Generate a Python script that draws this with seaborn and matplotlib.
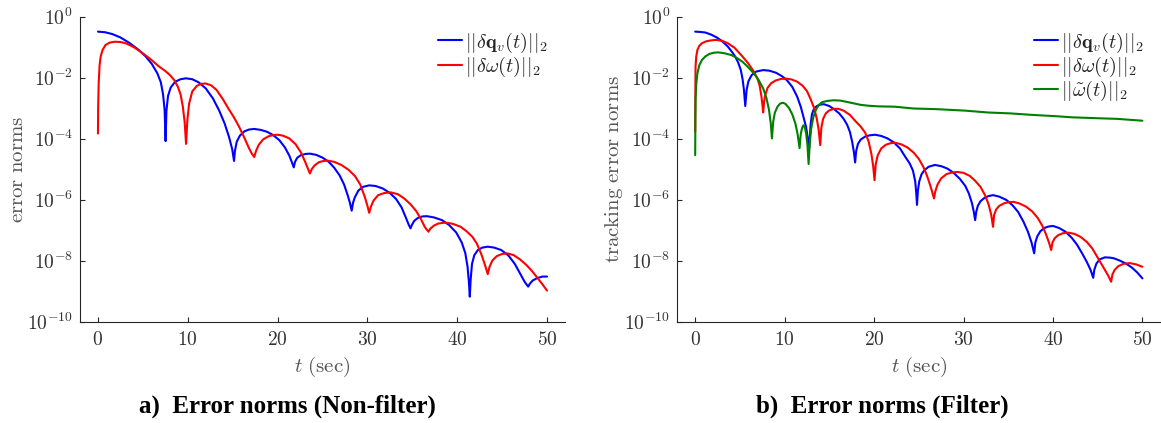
import numpy as np
import matplotlib
matplotlib.use("Agg")
import matplotlib.pyplot as plt
from matplotlib.ticker import NullLocator
import seaborn as sns

# ---------------- (a) non-filter case: time [s] and log10 of error norms ----------------
t_qv_a = [0, 0.8, 1.6, 2.5, 3.5, 4.5, 5.3, 6.0, 6.6, 7.0, 7.25, 7.42, 7.53,
          7.62, 7.8, 8.1, 8.6, 9.2, 9.8, 10.5, 11.2, 12.0, 12.8, 13.5, 14.1, 14.6, 14.95, 15.15,
          15.25, 15.45, 15.8, 16.3, 16.8, 17.4, 18.1, 18.8, 19.5, 20.2, 20.8, 21.3, 21.6, 21.8,
          21.95, 22.2, 22.6, 23.1, 23.6, 24.3, 25.0, 25.7, 26.3, 26.9, 27.4, 27.8, 28.05, 28.25,
          28.4, 28.6, 29.0, 29.5, 30.2, 30.9, 31.7, 32.5, 33.2, 33.8, 34.3, 34.6, 34.8,
          34.95, 35.2, 35.6, 36.1, 36.6, 37.4, 38.3, 39.1, 39.9, 40.5, 40.9, 41.15, 41.3, 41.4,
          41.5, 41.65, 41.9, 42.3, 42.8, 43.4, 44.1, 44.9, 45.7, 46.4, 47.0, 47.5, 47.9,
          48.1, 48.4, 48.9, 49.5, 50]
log_qv_a = [-0.49, -0.51, -0.57, -0.68, -0.86, -1.08, -1.30, -1.55, -1.85, -2.15, -2.55, -3.05, -4.08,
            -3.10, -2.60, -2.32, -2.13, -2.05, -2.02, -2.05, -2.15, -2.35, -2.68, -3.08, -3.50, -3.95, -4.35, -4.73,
            -4.40, -4.10, -3.90, -3.76, -3.70, -3.68, -3.71, -3.77, -3.88, -4.05, -4.28, -4.55, -4.78, -4.94,
            -4.75, -4.62, -4.54, -4.50, -4.49, -4.53, -4.62, -4.76, -4.95, -5.20, -5.50, -5.85, -6.10, -6.36,
            -6.10, -5.92, -5.70, -5.58, -5.53, -5.55, -5.63, -5.78, -5.98, -6.25, -6.60, -6.82, -6.94,
            -6.83, -6.70, -6.60, -6.55, -6.54, -6.58, -6.67, -6.83, -7.08, -7.40, -7.75, -8.20, -8.70, -9.18,
            -8.60, -8.10, -7.82, -7.65, -7.57, -7.54, -7.57, -7.65, -7.83, -8.10, -8.42, -8.69, -8.85,
            -8.75, -8.65, -8.57, -8.52, -8.52]

t_w_a = [0, 0.02, 0.08, 0.18, 0.3, 0.5, 0.83, 1.3, 1.86, 2.5, 3.1, 4.0, 4.76, 5.8, 6.83, 7.5,
         8.07, 8.5, 8.9, 9.2, 9.45, 9.65, 9.81,
         9.95, 10.15, 10.5, 11.0, 11.5, 12.0, 12.6, 13.2, 13.9, 14.5, 15.1, 15.7, 16.3, 16.8, 17.15, 17.4,
         17.6, 17.9, 18.4, 19.0, 19.5, 20.0, 20.6, 21.3, 22.0, 22.6, 23.1, 23.4, 23.6,
         23.8, 24.1, 24.6, 25.1, 25.6, 26.3, 27.1, 27.9, 28.6, 29.2, 29.7, 30.0, 30.2,
         30.4, 30.7, 31.2, 31.9, 32.6, 33.4, 34.1, 34.8, 35.4, 35.9, 36.4, 36.8,
         37.0, 37.4, 37.9, 38.7, 39.5, 40.4, 41.1, 41.7, 42.2, 42.7, 43.1, 43.4,
         43.6, 43.9, 44.4, 45.0, 45.6, 46.3, 47.0, 47.7, 48.3, 48.9, 49.5, 50]
log_w_a = [-3.83, -3.00, -2.19, -1.60, -1.31, -1.10, -0.93, -0.85, -0.82, -0.83, -0.87, -1.00, -1.15, -1.38, -1.64, -1.78,
           -1.93, -2.08, -2.30, -2.55, -2.95, -3.45, -4.17,
           -3.40, -2.85, -2.45, -2.27, -2.20, -2.19, -2.25, -2.40, -2.70, -3.00, -3.28, -3.60, -3.97, -4.30, -4.50, -4.60,
           -4.40, -4.20, -4.02, -3.92, -3.88, -3.87, -3.90, -3.99, -4.18, -4.45, -4.78, -5.00, -5.14,
           -5.00, -4.88, -4.77, -4.73, -4.72, -4.76, -4.86, -5.02, -5.22, -5.50, -5.90, -6.20, -6.43,
           -6.22, -6.02, -5.85, -5.78, -5.76, -5.82, -5.96, -6.15, -6.36, -6.60, -6.90, -7.05,
           -6.95, -6.85, -6.78, -6.75, -6.79, -6.89, -7.05, -7.22, -7.45, -7.80, -8.15, -8.44,
           -8.20, -8.00, -7.85, -7.78, -7.76, -7.82, -7.96, -8.14, -8.33, -8.55, -8.78, -8.98]

# ---------------- (b) filter case ----------------
t_qv_b = [0, 0.6, 1.16, 1.8, 2.41, 3.0, 3.65, 4.1, 4.48, 4.8, 5.1, 5.3, 5.45, 5.6,
          5.75, 5.95, 6.3, 6.8, 7.6, 8.3, 9.05, 9.7, 10.25, 10.85, 11.4, 11.8, 12.1, 12.4, 12.6, 12.75,
          12.9, 13.05, 13.3, 13.6, 14.0, 14.4, 15.0, 15.6, 16.1, 16.6, 17.0, 17.3, 17.55, 17.75, 17.88,
          18.0, 18.2, 18.5, 19.0, 19.5, 20.1, 20.8, 21.5, 22.2, 22.9, 23.5, 24.0, 24.35, 24.6, 24.72, 24.8,
          24.9, 25.05, 25.3, 25.6, 26.1, 26.8, 27.5, 28.2, 28.9, 29.6, 30.2, 30.6, 30.95, 31.15, 31.3,
          31.42, 31.6, 31.9, 32.3, 32.8, 33.3, 34.0, 34.8, 35.5, 36.1, 36.7, 37.2, 37.6, 37.9,
          38.03, 38.25, 38.6, 39.1, 39.5, 40.0, 40.7, 41.4, 42.1, 42.7, 43.3, 43.8, 44.2, 44.5,
          44.62, 44.85, 45.2, 45.8, 46.4, 46.8, 47.5, 48.2, 48.8, 49.4, 50]
log_qv_b = [-0.49, -0.50, -0.52, -0.59, -0.68, -0.80, -0.98, -1.15, -1.31, -1.50, -1.75, -2.05, -2.40, -2.93,
            -2.40, -2.12, -1.92, -1.80, -1.75, -1.77, -1.84, -1.95, -2.08, -2.30, -2.62, -2.95, -3.28, -3.62, -4.00, -4.30,
            -3.55, -3.20, -3.00, -2.93, -2.88, -2.87, -2.93, -3.05, -3.17, -3.35, -3.55, -3.78, -4.10, -4.45, -4.78,
            -4.40, -4.17, -4.03, -3.93, -3.89, -3.87, -3.91, -3.99, -4.12, -4.32, -4.60, -4.82, -5.05, -5.40, -5.80, -6.17,
            -5.70, -5.40, -5.17, -5.04, -4.92, -4.86, -4.90, -4.98, -5.12, -5.32, -5.55, -5.80, -6.12, -6.40, -6.67,
            -6.40, -6.20, -6.05, -5.95, -5.88, -5.85, -5.90, -6.01, -6.19, -6.40, -6.72, -7.05, -7.40, -7.76,
            -7.40, -7.20, -7.03, -6.92, -6.88, -6.86, -6.93, -7.05, -7.25, -7.48, -7.78, -8.05, -8.30, -8.56,
            -8.30, -8.10, -7.96, -7.89, -7.90, -7.92, -8.00, -8.10, -8.22, -8.38, -8.58]

t_w_b = [0, 0.02, 0.04, 0.12, 0.25, 0.45, 0.75, 1.2, 1.7, 2.3, 3.0, 3.65, 4.4, 5.3, 5.9, 6.56, 6.95,
         7.2, 7.4, 7.52, 7.6,
         7.7, 7.85, 8.1, 8.5, 9.0, 9.6, 10.2, 10.8, 11.4, 12.0, 12.5, 12.9, 13.3, 13.6, 13.8, 13.98,
         14.1, 14.3, 14.6, 15.0, 15.5, 16.0, 16.6, 17.3, 17.9, 18.5, 19.0, 19.4, 19.7, 19.9, 20.05,
         20.18, 20.4, 20.8, 21.3, 21.8, 22.3, 23.0, 23.7, 24.4, 25.0, 25.5, 25.9, 26.3, 26.55, 26.7,
         26.85, 27.1, 27.5, 28.1, 28.7, 29.3, 30.0, 30.7, 31.3, 31.9, 32.4, 32.8, 33.1, 33.3,
         33.42, 33.65, 34.0, 34.6, 35.1, 35.6, 36.3, 37.0, 37.7, 38.3, 38.8, 39.2, 39.55, 39.8,
         39.95, 40.2, 40.6, 41.1, 41.7, 42.4, 43.1, 43.8, 44.4, 44.9, 45.4, 45.8, 46.2, 46.5,
         46.65, 46.9, 47.3, 47.9, 48.6, 49.3, 50]
log_w_b = [-3.77, -2.50, -1.64, -1.30, -1.09, -0.96, -0.87, -0.81, -0.78, -0.76, -0.79, -0.87, -1.02, -1.31, -1.52, -1.80, -2.02,
           -2.25, -2.60, -2.90, -3.14,
           -2.80, -2.55, -2.33, -2.18, -2.09, -2.04, -2.03, -2.06, -2.13, -2.26, -2.44, -2.70, -3.00, -3.35, -3.70, -4.21,
           -3.65, -3.35, -3.17, -3.07, -3.02, -3.02, -3.08, -3.22, -3.42, -3.60, -3.80, -4.10, -4.50, -4.90, -5.36,
           -4.85, -4.55, -4.32, -4.20, -4.15, -4.13, -4.18, -4.28, -4.45, -4.66, -4.92, -5.20, -5.55, -5.80, -5.96,
           -5.72, -5.50, -5.30, -5.16, -5.11, -5.09, -5.12, -5.22, -5.38, -5.58, -5.85, -6.15, -6.50, -6.89,
           -6.50, -6.32, -6.20, -6.11, -6.08, -6.07, -6.13, -6.23, -6.39, -6.60, -6.85, -7.12, -7.40, -7.65,
           -7.40, -7.26, -7.16, -7.10, -7.08, -7.12, -7.22, -7.39, -7.60, -7.85, -8.10, -8.30, -8.50, -8.69,
           -8.45, -8.30, -8.18, -8.10, -8.08, -8.12, -8.20]

t_wt_b = [0, 0.02, 0.04, 0.12, 0.25, 0.45, 0.75, 1.15, 1.58, 2.1, 2.6, 3.3, 4.07, 4.7, 5.3, 5.9, 6.56,
          7.1, 7.6, 7.95, 8.25, 8.45, 8.58,
          8.72, 8.9, 9.2, 9.5, 9.8, 10.1, 10.5, 10.85, 11.2, 11.45, 11.67,
          11.8, 11.95, 12.1, 12.25, 12.4, 12.55, 12.68,
          12.8, 12.95, 13.2, 13.5, 13.8, 14.2, 14.8, 15.5, 16.2, 16.9, 17.7, 18.5, 19.4, 20.5,
          22.3, 24.4, 26.9, 30.2, 32.7, 35.2, 37.7, 40.2, 42.2, 45.1, 47.2, 50]
log_wt_b = [-4.54, -3.50, -2.73, -2.20, -1.86, -1.60, -1.42, -1.30, -1.22, -1.18, -1.17, -1.20, -1.26, -1.36, -1.48, -1.65, -1.86,
            -2.08, -2.35, -2.65, -3.05, -3.50, -3.99,
            -3.45, -3.15, -2.95, -2.85, -2.82, -2.86, -3.00, -3.20, -3.50, -3.85, -4.31,
            -3.85, -3.65, -3.56, -3.62, -3.82, -4.20, -4.83,
            -4.20, -3.70, -3.30, -3.05, -2.90, -2.80, -2.76, -2.74, -2.75, -2.79, -2.84, -2.89, -2.92, -2.94,
            -2.95, -3.01, -3.03, -3.08, -3.14, -3.17, -3.22, -3.26, -3.30, -3.33, -3.35, -3.41]

x_ticks = [0, 10, 20, 30, 40, 50]
y_exponents = [0, -2, -4, -6, -8, -10]

lab_qv = r"$||\delta\mathbf{q}_v(t)||_2$"
lab_w = r"$||\delta\omega(t)||_2$"
lab_wt = r"$||\tilde{\omega}(t)||_2$"

BLUE, RED, GREEN = "#0000ff", "#ff0000", "#008000"

sns.set_theme(style="ticks")
plt.rcParams["mathtext.fontset"] = "cm"
plt.rcParams["font.family"] = ["Liberation Serif", "DejaVu Serif"]

fig = plt.figure(figsize=(11.61, 4.23), dpi=100)
W, H = 1161.0, 423.0
ax_a = fig.add_axes([80 / W, 101.3 / H, 485 / W, 305 / H])
ax_b = fig.add_axes([677.3 / W, 101.3 / H, 483 / W, 305 / H])


def draw(ax, t, logv, color, label):
    sns.lineplot(x=np.asarray(t, float), y=10.0 ** np.asarray(logv, float), ax=ax,
                 color=color, linewidth=1.5, label=label, estimator=None, sort=False)


draw(ax_a, t_qv_a, log_qv_a, BLUE, lab_qv)
draw(ax_a, t_w_a, log_w_a, RED, lab_w)
draw(ax_b, t_qv_b, log_qv_b, BLUE, lab_qv)
draw(ax_b, t_w_b, log_w_b, RED, lab_w)
draw(ax_b, t_wt_b, log_wt_b, GREEN, lab_wt)


def style(ax, ylabel, ylab_x):
    ax.set_yscale("log")
    ax.set_xlim(-2, 52)
    ax.set_ylim(1e-10, 1e0)
    ax.set_xticks(x_ticks)
    ax.set_xticklabels([rf"${v}$" for v in x_ticks])
    ax.set_yticks([10.0 ** e for e in y_exponents])
    ax.set_yticklabels([rf"$10^{{{e}}}$" for e in y_exponents])
    ax.yaxis.set_minor_locator(NullLocator())
    ax.xaxis.set_minor_locator(NullLocator())
    for side in ("top", "right"):
        ax.spines[side].set_visible(False)
    for side in ("left", "bottom"):
        ax.spines[side].set_color("#262626")
        ax.spines[side].set_linewidth(0.8)
    ax.tick_params(direction="in", length=3.5, width=0.8, color="#262626",
                   labelcolor="#333333", labelsize=14)
    ax.tick_params(axis="x", pad=7)
    ax.tick_params(axis="y", pad=5)
    ax.set_facecolor("white")
    ax.set_xlabel(r"$t\ \mathrm{(sec)}$", fontsize=15, color="#555555")
    ax.xaxis.set_label_coords(0.5, -0.108)
    ax.set_ylabel(ylabel, fontsize=15, color="#555555")
    ax.yaxis.set_label_coords(ylab_x, 0.5)
    ax.legend(loc="upper left", bbox_to_anchor=(0.7375, 0.955), frameon=False,
              fontsize=14.5, handlelength=1.2, handletextpad=0.15, borderpad=0,
              borderaxespad=0, labelspacing=0.0)


style(ax_a, r"$\mathrm{error\ norms}$", -0.108)
style(ax_b, r"$\mathrm{tracking\ error\ norms}$", -0.108)

fig.text(287 / W, 1 - 406 / H, "a)  Error norms (Non-filter)", ha="center", va="center",
         fontsize=18, fontweight="bold", color="black")
fig.text(882 / W, 1 - 406 / H, "b)  Error norms (Filter)", ha="center", va="center",
         fontsize=18, fontweight="bold", color="black")

fig.savefig("out.png", dpi=100, facecolor="white")
